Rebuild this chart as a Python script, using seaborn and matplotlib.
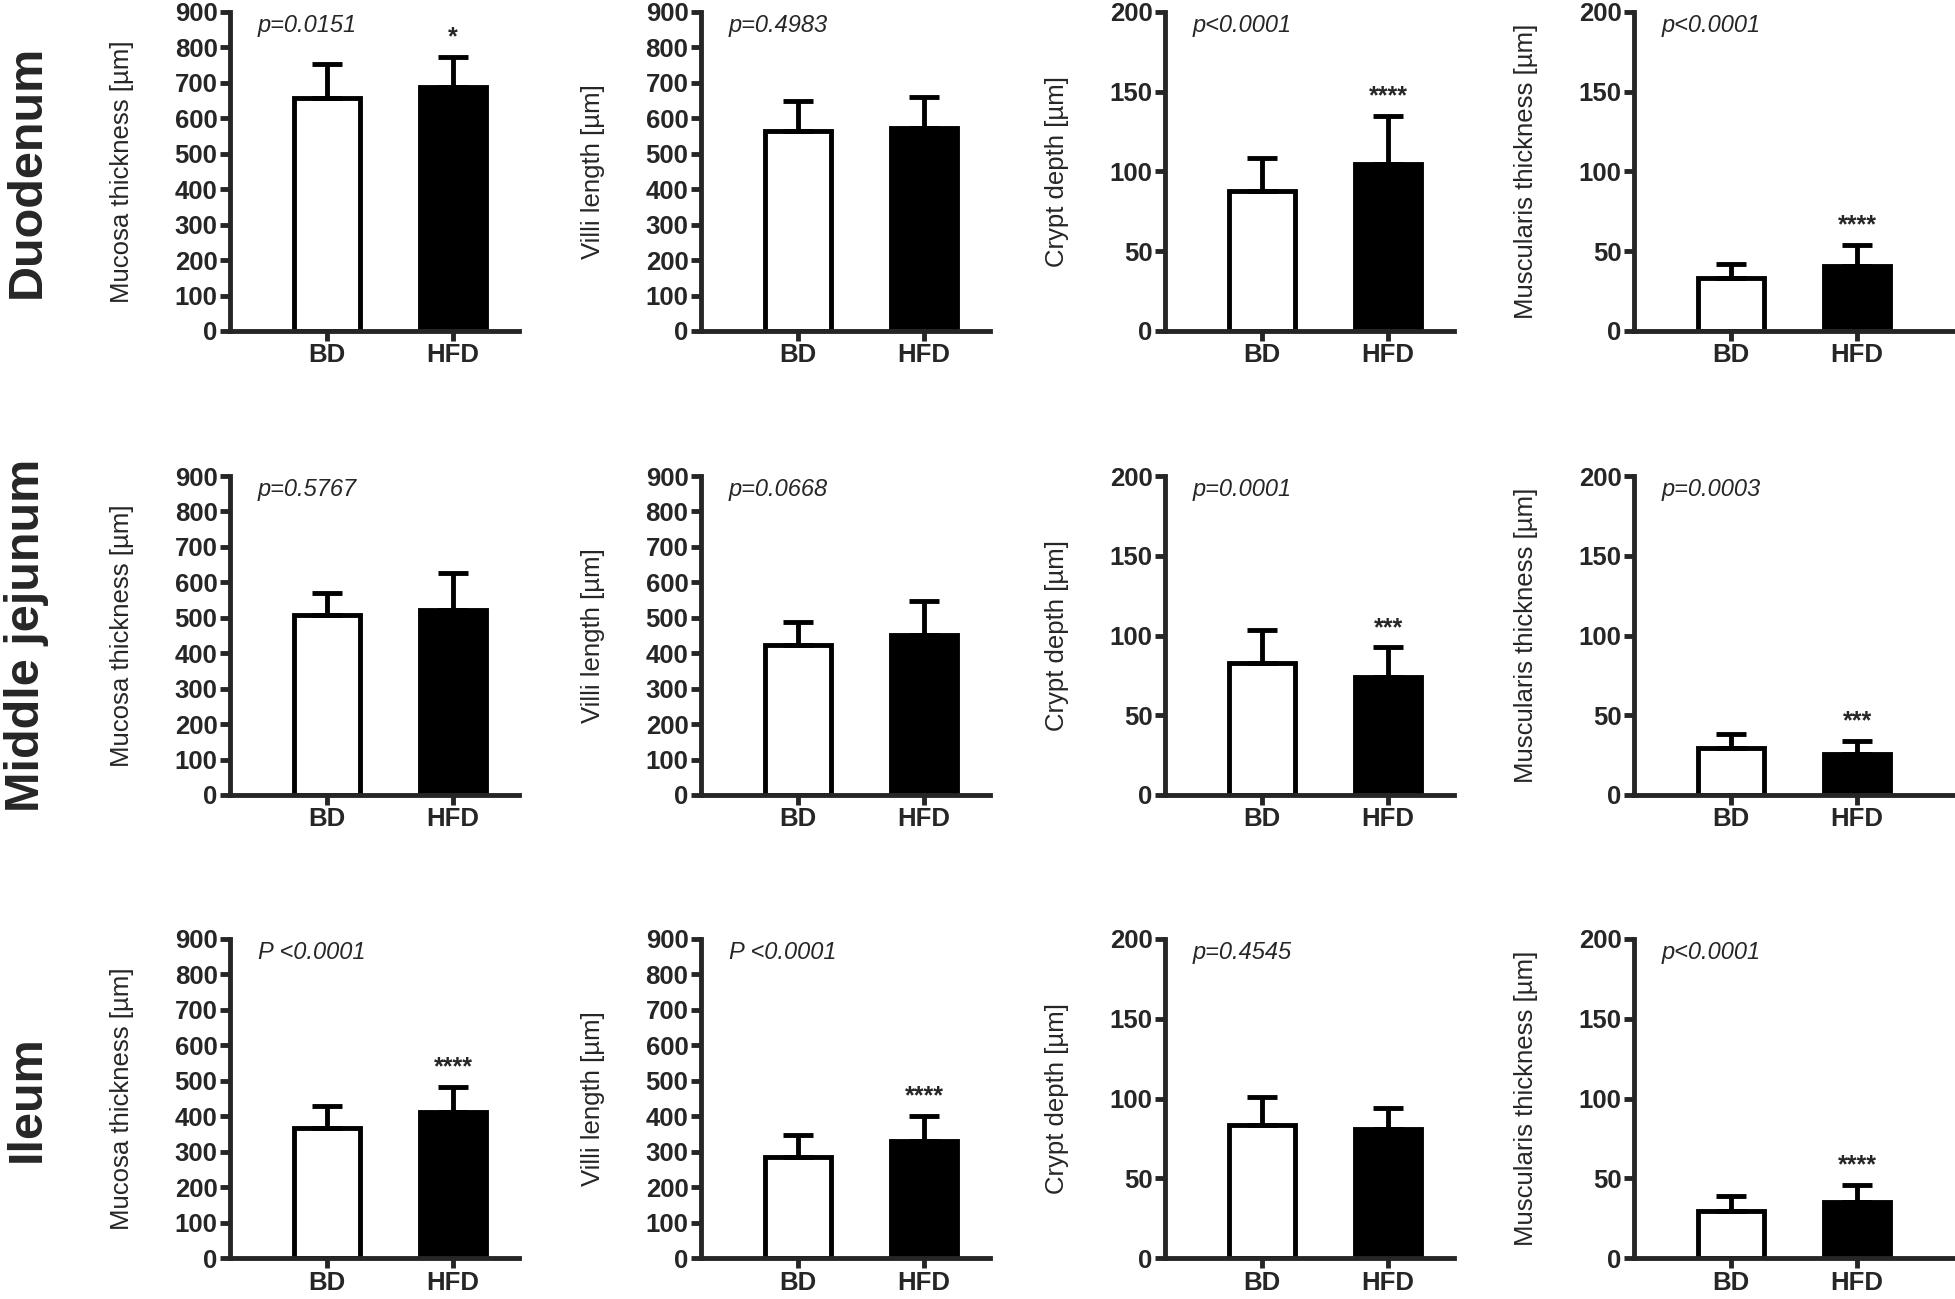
import numpy as np
import pandas as pd
import matplotlib
matplotlib.use('Agg')
import matplotlib.pyplot as plt
import seaborn as sns

# data (mean and upper SD)
groups = ['BD', 'HFD']
regions = ['Duodenum', 'Middle jejunum', 'Ileum']
measures = ['Mucosa thickness [µm]', 'Villi length [µm]', 'Crypt depth [µm]', 'Muscularis thickness [µm]']
ymax = [900, 900, 200, 200]
ystep = [100, 100, 50, 50]

duo_mean = [[656, 688], [565, 574], [88, 105], [33, 40.5]]
duo_sd = [[98, 86], [85, 86], [20.5, 30], [9, 13.5]]
jej_mean = [[507, 522], [424, 451], [82.5, 74], [29.5, 26]]
jej_sd = [[62, 104], [63, 95], [21, 18.5], [9, 8]]
ile_mean = [[368, 411], [284, 329], [83.5, 81], [29.5, 35]]
ile_sd = [[62, 72], [62, 73], [17.5, 13], [9.5, 11]]

pvals = [['p=0.0151', 'p=0.4983', 'p<0.0001', 'p<0.0001'],
         ['p=0.5767', 'p=0.0668', 'p=0.0001', 'p=0.0003'],
         ['P <0.0001', 'P <0.0001', 'p=0.4545', 'p<0.0001']]
stars = [['*', '', '****', '****'],
         ['', '', '***', '***'],
         ['****', '****', '', '****']]

means = [duo_mean, jej_mean, ile_mean]
sds = [duo_sd, jej_sd, ile_sd]

sns.set_theme(style='ticks', rc={'axes.linewidth': 3.5, 'xtick.major.width': 3.5, 'ytick.major.width': 3.5,
                                 'xtick.major.size': 7, 'ytick.major.size': 7})
plt.rcParams['font.family'] = ['Liberation Sans', 'DejaVu Sans']

fig = plt.figure(figsize=(19.55, 12.99), dpi=100)
W, H = 1955.0, 1299.0
col_left = [230, 701, 1165, 1634]
col_right = [1.52, 1.52, 1.52, 1.78]
row_bottom = [331, 795, 1258]
unit = 126.0
ax_h = 319

for r in range(3):
    for c in range(4):
        xr = col_right[c]
        w = (xr + 0.77) * unit
        ax = fig.add_axes([col_left[c] / W, 1 - row_bottom[r] / H, w / W, ax_h / H])
        df = pd.DataFrame({'group': groups, 'value': means[r][c]})
        sns.barplot(data=df, x='group', y='value', hue='group', palette={'BD': 'white', 'HFD': 'black'},
                    edgecolor='black', linewidth=3.5, width=0.52, errorbar=None, legend=False, ax=ax)
        ax.errorbar([0, 1], means[r][c], yerr=[[0, 0], sds[r][c]], fmt='none', ecolor='black',
                    elinewidth=3.5, capsize=11, capthick=3.5, zorder=1)
        ax.set_xlim(-0.77, xr)
        ax.set_ylim(0, ymax[c])
        ax.set_yticks(np.arange(0, ymax[c] + 1, ystep[c]))
        ax.set_xlabel('')
        ax.set_ylabel(measures[c], fontsize=18.5)
        ax.yaxis.set_label_coords(-96 / w, 0.5)
        ax.tick_params(axis='both', pad=2)
        for lab in ax.get_xticklabels() + ax.get_yticklabels():
            lab.set_fontweight('bold')
            lab.set_fontsize(18.5)
        sns.despine(ax=ax)
        ax.text(-0.55, ymax[c] * 0.958, pvals[r][c], fontsize=17, style='italic', ha='left', va='center')
        if stars[r][c]:
            top = means[r][c][1] + sds[r][c][1]
            ax.annotate(stars[r][c], (1, top), xytext=(0, 14), textcoords='offset points',
                        ha='center', va='center', fontsize=18, fontweight='bold')
    yc = 1 - (row_bottom[r] - ax_h / 2) / H
    fig.text(27 / W, yc, regions[r], rotation=90, fontsize=35, fontweight='bold', ha='center', va='center')

fig.savefig('out.png', dpi=100)
